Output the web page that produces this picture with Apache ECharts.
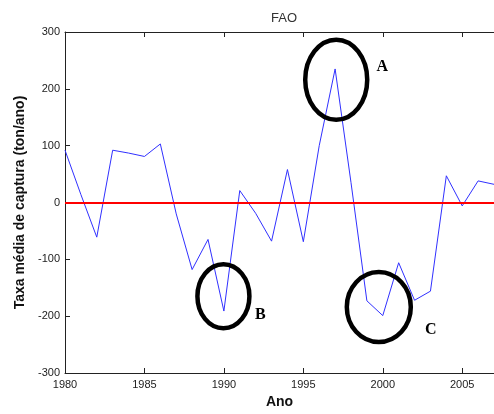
<!DOCTYPE html>
<html>
<head>
<meta charset="utf-8">
<script src="https://cdn.jsdelivr.net/npm/echarts@6/dist/echarts.min.js"></script>
<style>
  html, body { margin: 0; padding: 0; background: #fff; }
  #main { width: 494px; height: 414px; }
</style>
</head>
<body>
<div id="main"></div>
<script>
// anos e taxa média de captura (ton/ano)
var years = [1980, 1981, 1982, 1983, 1984, 1985, 1986, 1987, 1988, 1989,
             1990, 1991, 1992, 1993, 1994, 1995, 1996, 1997, 1998, 1999,
             2000, 2001, 2002, 2003, 2004, 2005, 2006, 2007];
var taxa = [92, 14, -61, 92, 87, 81, 103, -20, -118, -65,
            -191, 21, -19, -68, 58, -69, 100, 235, 35, -173,
            -199, -106, -172, -156, 47, -6, 38, 32];
var yTicks = [-300, -200, -100, 0, 100, 200, 300];
var xTicks = [1980, 1985, 1990, 1995, 2000, 2005];

// elipses de destaque (A, B, C) em coordenadas dos dados
var marcas = ['A', 'B', 'C'];
var marcaAno = [1997.07, 1989.97, 1999.75];
var marcaValor = [216, -165, -184];

var chart = echarts.init(document.getElementById('main'));

var serie = years.map(function (y, i) { return [y, taxa[i]]; });

var fonte = 'Liberation Sans, Arial, sans-serif';

var option = {
  animation: false,
  backgroundColor: '#fff',
  title: {
    text: 'FAO',
    left: 279, top: 7,
    textAlign: 'center',
    textStyle: { fontFamily: fonte, fontSize: 13, fontWeight: 'normal', color: '#333' }
  },
  grid: { left: 65, right: -4, top: 32, bottom: 39 },
  xAxis: [{
    type: 'value',
    min: xTicks[0], max: 2007, interval: 5,
    name: 'Ano', nameLocation: 'middle', nameGap: 22,
    nameTextStyle: { fontFamily: fonte, fontSize: 14, fontWeight: 'bold', color: '#111' },
    axisLine: { onZero: false, lineStyle: { color: '#222', width: 1 } },
    axisTick: { inside: true, length: 5, lineStyle: { color: '#222' } },
    axisLabel: {
      fontFamily: fonte, fontSize: 11, color: '#222', margin: 6, showMaxLabel: false,
      formatter: function (v) { return String(v); }
    },
    splitLine: { show: false }
  }, {
    type: 'value', position: 'top',
    min: xTicks[0], max: 2007, interval: 5,
    axisLine: { onZero: false, lineStyle: { color: '#222', width: 1 } },
    axisTick: { inside: true, length: 5, lineStyle: { color: '#222' } },
    axisLabel: { show: false },
    splitLine: { show: false }
  }],
  yAxis: {
    type: 'value',
    min: yTicks[0], max: yTicks[yTicks.length - 1], interval: 100,
    name: 'Taxa média de captura (ton/ano)', nameLocation: 'middle', nameGap: 33,
    nameTextStyle: { fontFamily: fonte, fontSize: 14, fontWeight: 'bold', color: '#111' },
    axisLine: { show: true, lineStyle: { color: '#222', width: 1 } },
    axisTick: { show: true, inside: true, length: 5, lineStyle: { color: '#222' } },
    axisLabel: { fontFamily: fonte, fontSize: 11, color: '#222', margin: 5 },
    splitLine: { show: false }
  },
  series: [{
    type: 'line',
    data: serie,
    symbol: 'none',
    lineStyle: { color: '#3030ff', width: 1 },
    markLine: {
      silent: true,
      symbol: 'none',
      label: { show: false },
      lineStyle: { color: '#ff0000', width: 2, type: 'solid' },
      data: [{ yAxis: 0 }]
    },
    z: 3
  }]
};

chart.setOption(option);

// elipses e letras
var rx = [31, 26, 32], ry = [40, 32, 35];
var dxLetra = [46, 37, 52], dyLetra = [-13, 19, 23];
var graficos = [];
marcas.forEach(function (m, i) {
  var p = chart.convertToPixel({ gridIndex: 0 }, [marcaAno[i], marcaValor[i]]);
  graficos.push({
    type: 'ellipse',
    shape: { cx: p[0], cy: p[1], rx: rx[i], ry: ry[i] },
    style: { fill: 'none', stroke: '#000', lineWidth: 4.5 },
    z: 10
  });
  graficos.push({
    type: 'text',
    x: p[0] + dxLetra[i], y: p[1] + dyLetra[i],
    style: {
      text: m, fill: '#000',
      font: 'bold 16px "Liberation Serif", "Times New Roman", serif',
      align: 'center', verticalAlign: 'middle'
    },
    z: 10
  });
});
chart.setOption({ graphic: graficos });
</script>
</body>
</html>
